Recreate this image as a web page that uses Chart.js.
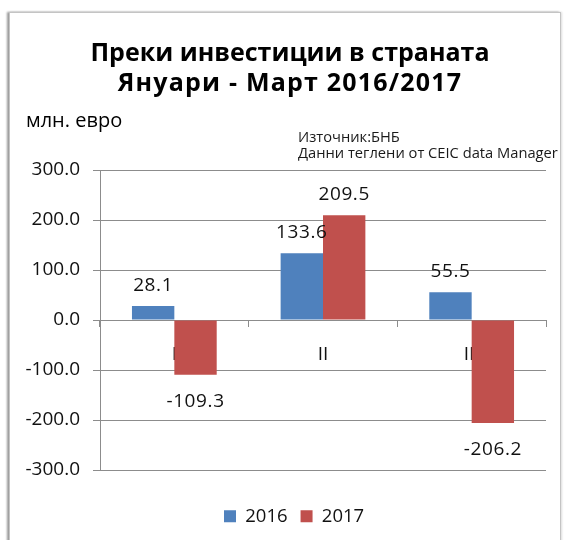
<!DOCTYPE html>
<html>
<head>
<meta charset="utf-8">
<script src="https://cdn.jsdelivr.net/npm/chart.js@4/dist/chart.umd.min.js"></script>
<style>
  html, body { margin: 0; padding: 0; background: #fff; }
  #wrap { position: relative; width: 564px; height: 540px; overflow: hidden; }
  #frame { position: absolute; left: 9px; top: 12px; width: 550px; height: 540px;
           border: 1px solid #c4c4c4; box-shadow: -2px 0 2px #9a9a9a, 1px 0 2px #dcdcdc; background: #fff; }
  #c { position: absolute; left: 0; top: 0; }
</style>
</head>
<body>
<div id="wrap">
  <div id="frame"></div>
  <canvas id="c" width="564" height="540"></canvas>
</div>
<script>
// ---- data ----
const categories = ['I', 'II', 'III'];
const seriesNames = ['2016', '2017'];
const values2016 = [28.1, 133.6, 55.5];
const values2017 = [-109.3, 209.5, -206.2];
const yMin = -300;
const yMax = 300;
const yStep = 100;
const titleLines = ['Преки инвестиции в страната', 'Януари - Март 2016/2017'];
const unitLabel = 'млн. евро';
const sourceLines = ['Източник:БНБ', 'Данни теглени от CEIC data Manager'];
const seriesColors = ['#4F81BD', '#C0504D'];

const FONT = "'Open Sans', 'DejaVu Sans', sans-serif";

const textPlugin = {
  id: 'texts',
  afterDraw(chart) {
    const ctx = chart.ctx;
    ctx.save();
    ctx.fillStyle = '#000';
    ctx.textBaseline = 'alphabetic';
    // title
    ctx.font = "bold 25px " + FONT;
    ctx.textAlign = 'center';
    ctx.fillText(titleLines[0], 290, 61);
    ctx.letterSpacing = '1.2px';
    ctx.fillText(titleLines[1], 290, 91);
    ctx.letterSpacing = '0px';
    // unit
    ctx.font = "20px " + FONT;
    ctx.textAlign = 'left';
    ctx.fillText(unitLabel, 26, 127);
    // source
    ctx.font = "14.7px " + FONT;
    ctx.fillStyle = '#1a1a1a';
    ctx.fillText(sourceLines[0], 298, 142);
    ctx.fillText(sourceLines[1], 298, 158);
    ctx.restore();
  }
};

const valueLabels = {
  id: 'valueLabels',
  afterDatasetsDraw(chart) {
    const ctx = chart.ctx;
    ctx.save();
    ctx.font = "19px " + FONT;
    ctx.letterSpacing = '0.6px';
    ctx.fillStyle = '#111';
    ctx.textAlign = 'center';
    ctx.textBaseline = 'alphabetic';
    chart.data.datasets.forEach((ds, di) => {
      const meta = chart.getDatasetMeta(di);
      meta.data.forEach((el, i) => {
        const v = ds.data[i];
        const txt = v.toFixed(1);
        const y = v >= 0 ? el.y - 15 : el.y + 32;
        ctx.fillText(txt, el.x, y);
      });
    });
    ctx.restore();
  }
};

// move the legend row so that it starts under the reference position
const legendShift = {
  id: 'legendShift',
  afterLayout(chart) {
    const lg = chart.legend;
    if (!lg || !lg.lineWidths) return;
    const pad = lg.options.labels.padding;
    const start = (lg.left + pad + lg.right - lg.lineWidths[0]) / 2;
    const dx = 224 - start;
    lg.left += dx;
    lg.right += dx;
  }
};

new Chart(document.getElementById('c'), {
  type: 'bar',
  data: {
    labels: categories,
    datasets: [
      { label: seriesNames[0], data: values2016, backgroundColor: seriesColors[0] },
      { label: seriesNames[1], data: values2017, backgroundColor: seriesColors[1] }
    ]
  },
  options: {
    responsive: false,
    animation: false,
    events: [],
    categoryPercentage: 0.57,
    barPercentage: 1.0,
    layout: { padding: { left: 10, right: 18, top: 170, bottom: 4.5 } },
    scales: {
      y: {
        min: yMin, max: yMax,
        ticks: {
          stepSize: yStep,
          padding: 13,
          color: '#111',
          font: { family: FONT, size: 19 },
          callback: (v) => Number(v).toFixed(1)
        },
        grid: { color: '#8c8c8c', lineWidth: 1, tickLength: 7, drawTicks: true },
        border: { display: true, color: '#8c8c8c', width: 1 },
        afterFit(scale) { scale.width = 90; }
      },
      x: {
        type: 'category',
        position: { y: 0 },
        offset: true,
        ticks: {
          padding: 17,
          color: '#111',
          font: { family: FONT, size: 19 }
        },
        grid: { drawOnChartArea: false, drawTicks: true, tickLength: 6, color: '#8c8c8c', offset: true },
        border: { display: true, color: '#8c8c8c', width: 1 }
      }
    },
    plugins: {
      title: { display: false },
      tooltip: { enabled: false },
      legend: {
        display: true,
        position: 'bottom',
        title: { display: true, text: ' ', font: { size: 10 }, padding: { top: 6, bottom: 6 } },
        labels: {
          boxWidth: 12, boxHeight: 12, padding: 13,
          color: '#111',
          font: { family: FONT, size: 18.5 }
        }
      }
    }
  },
  plugins: [textPlugin, valueLabels, legendShift]
});
</script>
</body>
</html>
